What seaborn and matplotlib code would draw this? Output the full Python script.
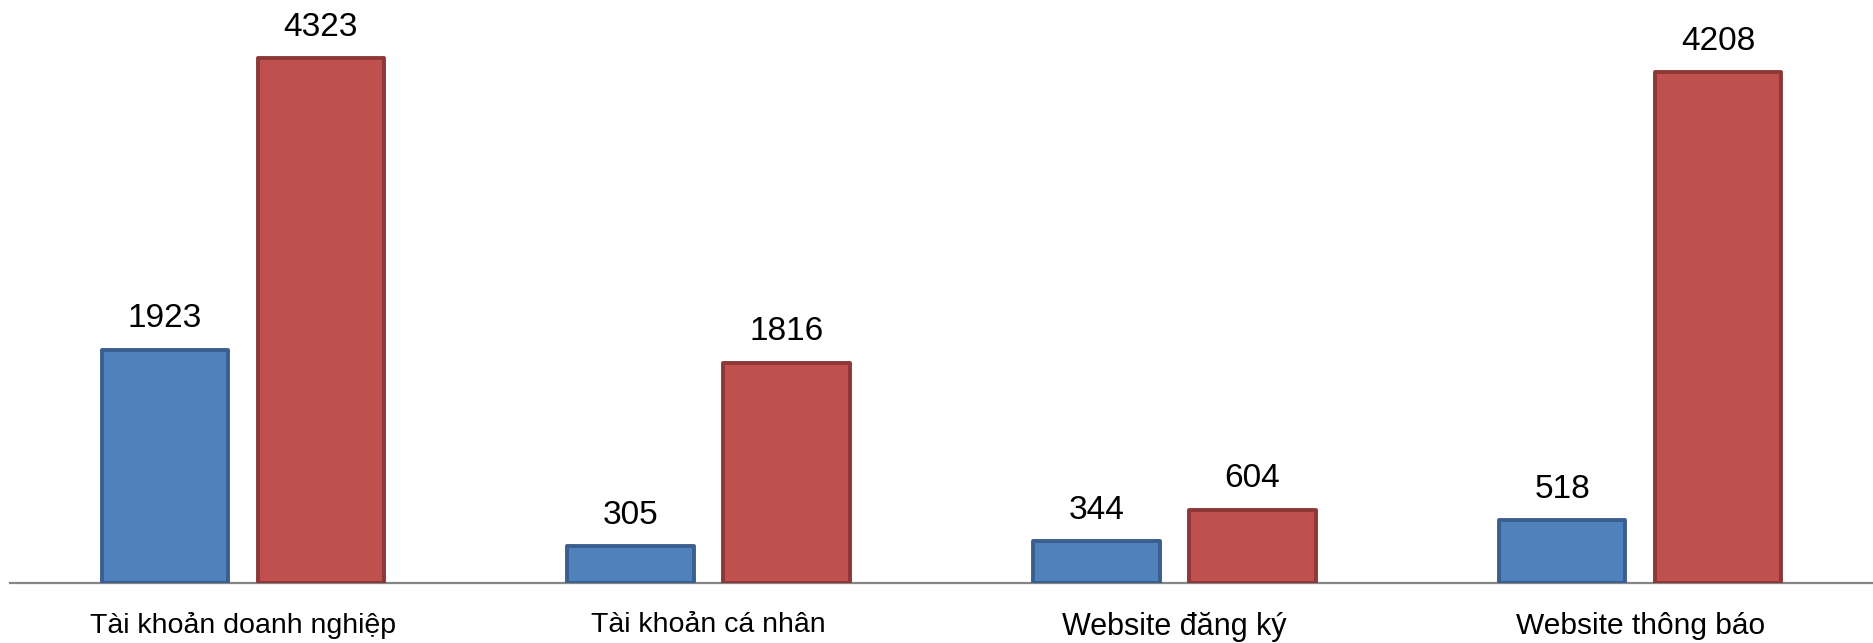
import numpy as np
import seaborn as sns
import matplotlib.pyplot as plt
import pandas as pd

categories = ['Tài khoản doanh nghiệp', 'Tài khoản cá nhân', 'Website đăng ký', 'Website thông báo']
series_names = ['Chuỗi 1', 'Chuỗi 2']
values_1 = [1923, 305, 344, 518]
values_2 = [4323, 1816, 604, 4208]

df = pd.DataFrame({
    'cat': categories * 2,
    'series': [series_names[0]] * 4 + [series_names[1]] * 4,
    'value': values_1 + values_2,
})

sns.set_style('white')
plt.rcParams['font.family'] = ['Liberation Sans', 'DejaVu Sans']
plt.rcParams['text.color'] = 'black'
plt.rcParams['xtick.color'] = 'black'

fig = plt.figure(figsize=(18.73, 6.43), dpi=100)
ax = fig.add_axes([10 / 1873, 60 / 643, 1 - 10 / 1873, 583 / 643])

sns.barplot(data=df, x='cat', y='value', hue='series', order=categories,
            palette=['#4F81BD', '#C0504D'], saturation=1, width=0.67, gap=0.19,
            legend=False, ax=ax)

edges = ['#3A5F8E', '#8C3836']
for cont, ec in zip(ax.containers, edges):
    for p in cont:
        p.set_edgecolor(ec)
        p.set_linewidth(2.8)
        p.set_joinstyle('round')
    ax.bar_label(cont, fmt='%d', padding=11, fontsize=24, color='black')

ax.set_xlim(-0.5, 3.5)
ax.set_ylim(0, 4805)
for s in ['top', 'right', 'left']:
    ax.spines[s].set_visible(False)
ax.spines['bottom'].set_color('#868686')
ax.spines['bottom'].set_linewidth(1.6)
ax.spines['bottom'].set_zorder(0.5)
ax.set_yticks([])
ax.set_xlabel('')
ax.set_ylabel('')
ax.tick_params(axis='x', length=0, pad=21, labelcolor='black')
ax.set_xticks(range(len(categories)))
ax.set_xticklabels(categories)
for lab, fs in zip(ax.get_xticklabels(), [20.5, 20.5, 22, 21.5]):
    lab.set_fontsize(fs)

fig.savefig('out.png', dpi=100)
